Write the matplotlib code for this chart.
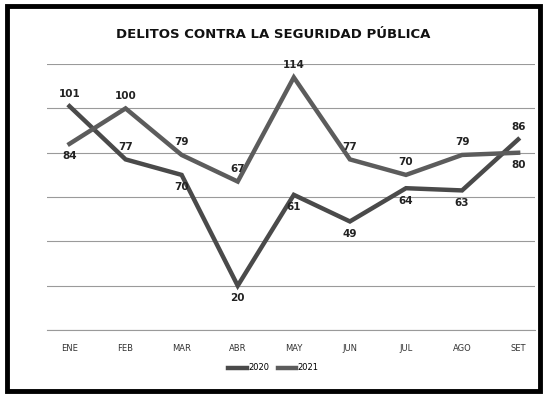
import matplotlib.pyplot as plt
from matplotlib.patches import Rectangle

months = ["ENE", "FEB", "MAR", "ABR", "MAY", "JUN", "JUL", "AGO", "SET"]
delitos_2020 = [101, 77, 70, 20, 61, 49, 64, 63, 86]
delitos_2021 = [84, 100, 79, 67, 114, 77, 70, 79, 80]

# where each data label goes (1 = above, -1 = below)
pos_2020 = [1, 1, -1, -1, -1, -1, -1, -1, 1]
pos_2021 = [-1, 1, 1, 1, 1, 1, 1, 1, -1]

fig = plt.figure(figsize=(5.47, 4.03), dpi=100)
ax = fig.add_axes([0.086, 0.181, 0.892, 0.66])

x = list(range(len(months)))
ax.plot(x, delitos_2020, color="#4a4a4a", linewidth=3.2, label="2020",
        solid_joinstyle="miter")
ax.plot(x, delitos_2021, color="#5c5c5c", linewidth=3.2, label="2021",
        solid_joinstyle="miter")

for xi, v, p in zip(x, delitos_2020, pos_2020):
    ax.annotate(str(v), (xi, v), xytext=(0, 9 * p), textcoords="offset points",
                ha="center", va="center", fontsize=7.5, fontweight="bold", color="#222222")
for xi, v, p in zip(x, delitos_2021, pos_2021):
    ax.annotate(str(v), (xi, v), xytext=(0, 9 * p), textcoords="offset points",
                ha="center", va="center", fontsize=7.5, fontweight="bold", color="#222222")

ax.set_ylim(0, 120)
ax.set_xlim(-0.4, 8.3)
ax.set_yticks(range(0, 121, 20))
ax.yaxis.grid(True, color="#9a9a9a", linewidth=0.8)
ax.set_yticklabels([])
ax.tick_params(axis="y", length=0)
ax.tick_params(axis="x", length=0, labelsize=6, pad=10, colors="#333333")
ax.set_xticks(x)
ax.set_xticklabels(months)
for s in ["top", "right", "left"]:
    ax.spines[s].set_visible(False)
ax.spines["bottom"].set_color("#9a9a9a")

fig.text(0.5, 0.915, "DELITOS CONTRA LA SEGURIDAD PÚBLICA", ha="center", va="center",
         fontsize=9.5, fontweight="bold", color="#111111")

fig.legend(loc="center", bbox_to_anchor=(0.5, 0.087), ncol=2, frameon=False,
           fontsize=6, handlelength=2.2, columnspacing=1.0, handletextpad=0.2)

fig.patches.append(Rectangle((0.012, 0.03), 0.975, 0.955, transform=fig.transFigure,
                             fill=False, edgecolor="black", linewidth=3.5))

fig.savefig("out.png", dpi=100)
